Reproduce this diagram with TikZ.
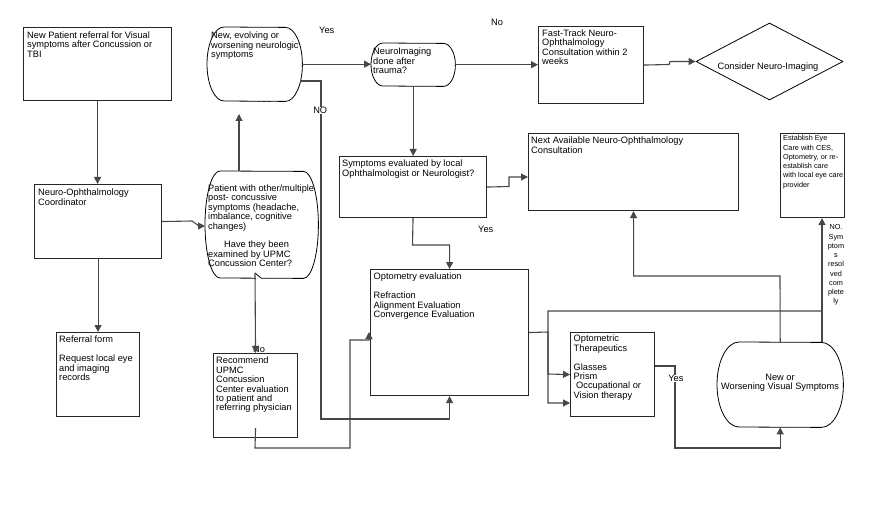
\documentclass[tikz,border=0pt]{standalone}
\usepackage{fontspec}
\setmainfont{Liberation Sans}
\usetikzlibrary{arrows.meta,shapes.geometric}
\newcommand\mybarrel[6]{%
  \node[inner sep=0pt,minimum width=#4pt,minimum height=#5pt,anchor=north west] (#1) at (#2,#3) {};
  \draw[shp] ([xshift=#6pt]#1.north west) arc[start angle=90,end angle=270,x radius=#6pt,y radius=#5pt/2]
     -- ([xshift=-#6pt]#1.south east) arc[start angle=-90,end angle=90,x radius=#6pt,y radius=#5pt/2] -- cycle;}
\begin{document}
\begin{tikzpicture}[x=1pt,y=-1pt,
  txt/.style={inner sep=0pt,anchor=north west,align=left,font=\fontsize{9.25}{9.4}\selectfont},
  ctxt/.style={inner sep=0pt,anchor=north,align=center,font=\fontsize{9.25}{9.4}\selectfont},
  small/.style={font=\fontsize{7.3}{9.25}\selectfont},
  box/.style={draw=black!85,line width=1.1pt,fill=white,inner sep=0pt,anchor=north west},
  shp/.style={draw=black,line width=0.8pt,fill=white},
  con/.style={draw=black!72,line width=1.1pt},
  arr/.style={con,-{Triangle[length=7pt,width=7pt]}},
  lab/.style={inner sep=0.6pt,fill=white,anchor=north west,font=\fontsize{9.25}{9.4}\selectfont}]
\useasboundingbox (0,0) rectangle (883,505);

% labels partly hidden behind shapes
\node[txt] (yesB) at (256,95.5) {Yes};
\node[txt] (noL) at (253,345.5) {No};

% boxes
\node[box,minimum width=148pt,minimum height=73pt] (A) at (23,27) {};
\node[box,minimum width=105pt,minimum height=77pt] (D) at (538,26) {};
\node[box,minimum width=127pt,minimum height=74pt] (F) at (34,184) {};
\node[box,minimum width=147pt,minimum height=61pt] (H) at (339,156) {};
\node[box,minimum width=210pt,minimum height=77pt] (I) at (528,133) {};
\node[box,minimum width=64pt,minimum height=84pt] (J) at (780,133) {};
\node[box,minimum width=83pt,minimum height=84pt] (K) at (56,332) {};
\node[box,minimum width=84pt,minimum height=84pt] (L) at (213,353) {};
\node[box,minimum width=158pt,minimum height=126pt] (M) at (370,269) {};
\node[box,minimum width=84pt,minimum height=84pt] (N) at (570,332) {};

% rounded shapes
\mybarrel{B}{207}{27}{95}{74}{17}
\mybarrel{C}{371}{43}{84}{43}{12}
\mybarrel{G}{205}{171}{113}{107}{15}
\mybarrel{O}{717}{342}{126}{85}{22}
\draw[white,line width=1.4pt] (255.8,278) -- (260.5,278);
\draw[line width=0.8pt] (255,273) -- (261,278);

\node[draw=black,line width=0.8pt,shape=diamond,minimum width=147pt,minimum height=77pt,inner sep=0pt,fill=white] (E) at (769.5,61.5) {};

% connectors
\draw[arr] (A.south) -- (A.south |- F.north);
\draw[arr] (F.south) -- (F.south |- K.north);
\draw[arr] (F.east) -- (192,221) -- (199,226) -- (G.west |- 0,226);
\coordinate (Bin) at (239,114);
\draw[arr] (G.north -| 239,0) -- (Bin);
\draw[arr] (B.east) -- (B.east -| C.west);
\draw[arr] (300,81) -- (321,81) -- (321,419) -- (M.south |- 0,419) -- (M.south);
\draw[arr] (C.east) -- (C.east -| D.west);
\draw[arr] (C.south) -- (C.south |- H.north);
\draw[arr] (D.east) -- (669,64.5) -- (670,61.5) -- (E.west);
\draw[arr] (H.east) -- (509,186.5) -- (509,177) -- (I.west |- 0,177);
\draw[arr] (H.south) -- (412.5,245) -- (M.north |- 0,245) -- (M.north);
\draw[arr] ([yshift=10pt]L.south) -- (255,448) -- (350,448) -- (350,340) -- (369,340) -- (369,332);
\draw[arr] (255,273) -- (L.north);
\draw[arr] (M.east) -- (548,332) -- (548,403) -- (N.west |- 0,403);
\draw[arr] (O.north -| 822,0) -- (822,311) -- (548,311) -- (548,374) -- (N.west);
\draw[arr] (O.north -| 822,0) -- (J.south -| 822,0);
\draw[arr] (O.north) -- (780,276) -- (I.south |- 0,276) -- (I.south);
\draw[arr] (N.east |- 0,366) -- (675,366) -- (675,448) -- (O.south |- 0,448) -- (O.south);

% texts
\node[txt] (tA) at (27,31.5) {New Patient referral for Visual\\symptoms after Concussion or\\TBI};
\node[txt] (tB) at (211,32) {New, evolving or\\worsening neurologic\\symptoms};
\node[txt] (tC) at (373,48) {NeuroImaging\\done after\\trauma?};
\node[txt] (tD) at (542,29.5) {Fast-Track Neuro-\\Ophthalmology\\Consultation within 2\\weeks};
\node[inner sep=0pt,font=\fontsize{9.25}{9.4}\selectfont] (tE) at (768,67) {Consider Neuro-Imaging};
\node[txt] (tF) at (38,189) {Neuro-Ophthalmology\\Coordinator};
\node[txt] (tG) at (208,184.5) {Patient with other/multiple\\post- concussive\\symptoms (headache,\\imbalance, cognitive\\changes)\\[9.4pt]\hspace*{16pt}Have they been\\examined by UPMC\\Concussion Center?};
\node[txt] (tH) at (342,160) {Symptoms evaluated by local\\Ophthalmologist or Neurologist?};
\node[txt] (tI) at (531,137) {Next Available Neuro-Ophthalmology\\Consultation};
\node[txt,small] (tJ) at (783,135.5) {Establish Eye\\Care with CES,\\Optometry, or re-\\establish care\\with local eye care\\provider};
\node[ctxt,small] (tJno) at (836,224.5) {NO.\\Sym\\ptom\\s\\resol\\ved\\com\\plete\\ly};
\node[txt] (tK) at (59,336) {Referral form\\[9.4pt]Request local eye\\and imaging\\records};
\node[txt] (tL) at (216,357) {Recommend\\UPMC\\Concussion\\Center evaluation\\to patient and\\referring physician};
\node[txt] (tM) at (373.5,273) {Optometry evaluation\\[9.4pt]Refraction\\Alignment Evaluation\\Convergence Evaluation};
\node[txt] (tN) at (573.5,335) {Optometric\\Therapeutics\\[9.4pt]Glasses\\Prism\\\hspace*{2.5pt}Occupational or\\Vision therapy};
\node[ctxt] (tO) at (780,374) {New or\\Worsening Visual Symptoms};

% connector labels
\node[txt] (yes1) at (319,27) {Yes};
\node[txt] (no1) at (491,19) {No};
\node[lab] (no2) at (312.5,106.5) {NO};
\node[txt] (yes2) at (478,226) {Yes};
\node[lab] (yes3) at (667.5,374.5) {Yes};
\end{tikzpicture}
\end{document}
